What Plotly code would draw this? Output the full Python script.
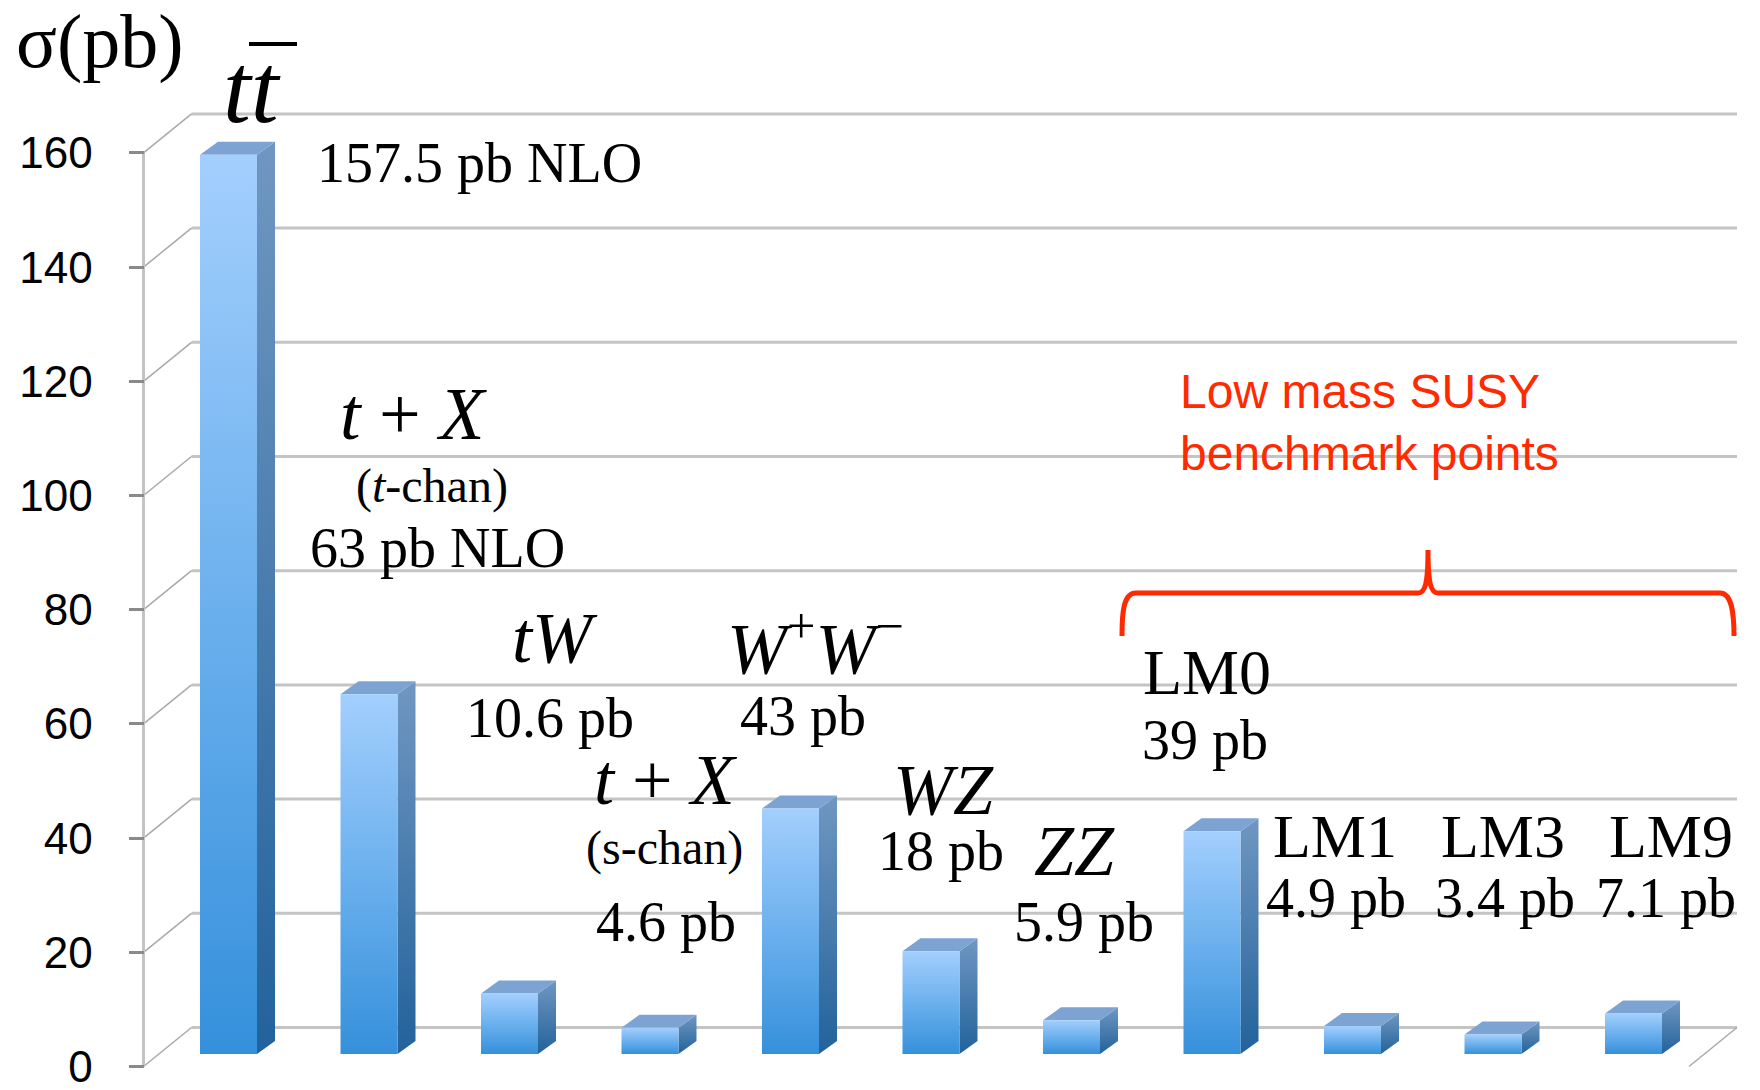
import plotly.graph_objects as go

# ---------------- data ----------------
processes = ["tt", "t+X (t-chan)", "tW", "t+X (s-chan)", "W+W-", "WZ", "ZZ",
             "LM0", "LM1", "LM3", "LM9"]
xsec_pb = [157.5, 63.0, 10.6, 4.6, 43.0, 18.0, 5.9, 39.0, 4.9, 3.4, 7.1]
order_note = ["NLO", "NLO", "", "", "", "", "", "", "", "", ""]
process_labels = [
    "<i>tt</i>",
    "<i>t</i> + <i>X</i>",
    "<i>tW</i>",
    "<i>t</i> + <i>X</i>",
    "<i>W</i><sup>+</sup><i>W</i><sup>\u2212</sup>",
    "<i>WZ</i>",
    "<i>ZZ</i>",
    "LM0", "LM1", "LM3", "LM9",
]
channel_labels = ["", "(<i>t</i>-chan)", "", "(s-chan)", "", "", "", "", "", "", ""]
y_ticks = [0, 20, 40, 60, 80, 100, 120, 140, 160]
axis_title = "\u03c3(pb)"
susy_note = "Low mass SUSY<br>benchmark points"

# ---------------- geometry (pixels of a 1760x1090 canvas) ----------------
W, H = 1760, 1090
PITCH = 140.5          # px between neighbouring bars
X0_PX = 228.5          # centre of the first bar's front face
Y0_PX = 1066.5         # value 0 on the front plane
PX_PER_PB = 5.71

def dx(px):            # horizontal pixel length -> category units
    return px / PITCH

def dy(px):            # vertical pixel length -> pb units
    return px / PX_PER_PB

x_range = [-X0_PX / PITCH, (W - X0_PX) / PITCH]
y_range = [-(H - Y0_PX) / PX_PER_PB, Y0_PX / PX_PER_PB]

bar_w = dx(57)                  # front face width
bar_base = dy(12.5)             # bars stand a little behind the front plane
depth_x, depth_y = dx(18), dy(13)       # bar depth projection
wall_x, wall_y = dx(48), dy(39)         # floor depth projection
left_x = (143.5 - X0_PX) / PITCH        # front-left corner of the floor
right_back_x = (1737 - X0_PX) / PITCH   # right end of the back wall

GRID = "#c4c4c4"
DIAG = "#a9a9a9"
FRONT_SCALE = [[0, "#3590db"], [0.45, "#66adec"], [1, "#a3cffd"]]
SIDE_SCALE = [[0, "#22629b"], [1, "#7097c1"]]
TOP_COLOR = "#7ca3d2"
RED = "#ff2a00"
SERIF = "Liberation Serif, Times New Roman, serif"
SANS = "Liberation Sans, Arial, sans-serif"

fig = go.Figure()

# back wall gridlines and the oblique lines joining them to the axis
gx, gy, ox, oy = [], [], [], []
for v in y_ticks:
    gx += [left_x + wall_x, right_back_x, None]
    gy += [v + wall_y, v + wall_y, None]
    ox += [left_x, left_x + wall_x, None]
    oy += [v, v + wall_y, None]
ox += [right_back_x, right_back_x - wall_x, None]
oy += [wall_y, 0, None]
fig.add_trace(go.Scatter(x=gx, y=gy, mode="lines", line=dict(color=GRID, width=3),
                         hoverinfo="skip"))
fig.add_trace(go.Scatter(x=ox, y=oy, mode="lines", line=dict(color=DIAG, width=1.5),
                         hoverinfo="skip"))
# front vertical axis line
fig.add_trace(go.Scatter(x=[left_x, left_x], y=[0, y_ticks[-1]], mode="lines",
                         line=dict(color=GRID, width=3), hoverinfo="skip"))

# 3-D looking bars: side, top and front faces
for i, (name, v) in enumerate(zip(processes, xsec_pb)):
    xl, xr = i - bar_w / 2, i + bar_w / 2
    yb, yt = bar_base, bar_base + v
    fig.add_trace(go.Scatter(
        x=[xr, xr + depth_x, xr + depth_x, xr, xr],
        y=[yb, yb + depth_y, yt + depth_y, yt, yb],
        fill="toself", mode="lines", line=dict(width=0),
        fillgradient=dict(type="vertical", colorscale=SIDE_SCALE),
        hoverinfo="skip"))
    fig.add_trace(go.Scatter(
        x=[xl, xr, xr + depth_x, xl + depth_x, xl],
        y=[yt, yt, yt + depth_y, yt + depth_y, yt],
        fill="toself", mode="lines", line=dict(width=0), fillcolor=TOP_COLOR,
        hoverinfo="skip"))
    fig.add_trace(go.Scatter(
        x=[xl, xr, xr, xl, xl],
        y=[yb, yb, yt, yt, yb],
        fill="toself", mode="lines", line=dict(width=0),
        fillgradient=dict(type="vertical", colorscale=FRONT_SCALE),
        name=name, text=f"{v:g} pb", hoverinfo="name+text"))

# ---------------- labels ----------------
def paper(px, py):
    return px / W, 1 - py / H

annotations = []

def label(text, px, py, size, font=SERIF, color="black", xanchor="center", align="center"):
    x, y = paper(px, py)
    annotations.append(dict(text=text, x=x, y=y, xref="paper", yref="paper",
                            xanchor=xanchor, yanchor="middle", align=align,
                            showarrow=False,
                            font=dict(family=font, size=size, color=color)))

value_labels = [f"{v:g} pb" + (f" {n}" if n else "") for v, n in zip(xsec_pb, order_note)]

# process name positions (px centre, font size)
name_pos = [(252, 88, 100), (413, 414, 74), (555, 638, 72), (666, 780, 72),
            (815, 643, 72), (943, 790, 72), (1074, 851, 72),
            (1207, 672, 64), (1335, 836, 62), (1503, 836, 62), (1671, 836, 62)]
value_pos = [(480, 163, 56), (437, 548, 56), (550, 718, 56), (666, 922, 56),
             (803, 716, 56), (941, 851, 56), (1084, 922, 56),
             (1205, 740, 56), (1336, 898, 56), (1505, 898, 56), (1666, 898, 56)]
channel_pos = {1: (432, 486, 48), 3: (664, 848, 48)}

for i in range(len(processes)):
    px, py, s = name_pos[i]
    label(process_labels[i], px, py, s)
    px, py, s = value_pos[i]
    label(value_labels[i], px, py, s)
    if channel_labels[i]:
        px, py, s = channel_pos[i]
        label(channel_labels[i], px, py, s)

label(axis_title, 100, 42, 76)
label(susy_note, 1178, 422, 48, font=SANS, color=RED, xanchor="left", align="left")

# bar over the second t of the top-pair label, and the SUSY brace
shapes = []
x1, y1 = paper(249, 44)
x2, y2 = paper(297, 44)
shapes.append(dict(type="line", xref="paper", yref="paper", x0=x1, y0=y1, x1=x2, y1=y2,
                   line=dict(color="black", width=4)))

def pt(px, py):
    x, y = paper(px, py)
    return f"{x:.5f},{y:.5f}"

brace = (f"M {pt(1122, 636)} C {pt(1122, 610)} {pt(1124, 593)} {pt(1136, 593)} "
         f"L {pt(1418, 593)} C {pt(1425, 593)} {pt(1428, 584)} {pt(1428, 550)} "
         f"C {pt(1428, 584)} {pt(1431, 593)} {pt(1438, 593)} "
         f"L {pt(1720, 593)} C {pt(1731, 593)} {pt(1734, 610)} {pt(1734, 636)}")
shapes.append(dict(type="path", xref="paper", yref="paper", path=brace,
                   line=dict(color=RED, width=5)))

fig.update_layout(
    width=W, height=H,
    margin=dict(l=0, r=0, t=0, b=0, pad=0),
    paper_bgcolor="white", plot_bgcolor="white",
    showlegend=False,
    xaxis=dict(range=x_range, visible=False, fixedrange=True),
    yaxis=dict(range=y_range, anchor="free", position=143.5 / W,
               showgrid=False, zeroline=False, showline=False,
               tickvals=y_ticks, ticktext=[str(t) for t in y_ticks],
               ticks="outside", ticklen=15, tickwidth=3, tickcolor="#8a8a8a",
               ticklabelstandoff=27, ticklabeloverflow="allow",
               tickfont=dict(family=SANS, size=44, color="black"),
               fixedrange=True),
    annotations=annotations,
    shapes=shapes,
)

fig.write_html("out.html")
